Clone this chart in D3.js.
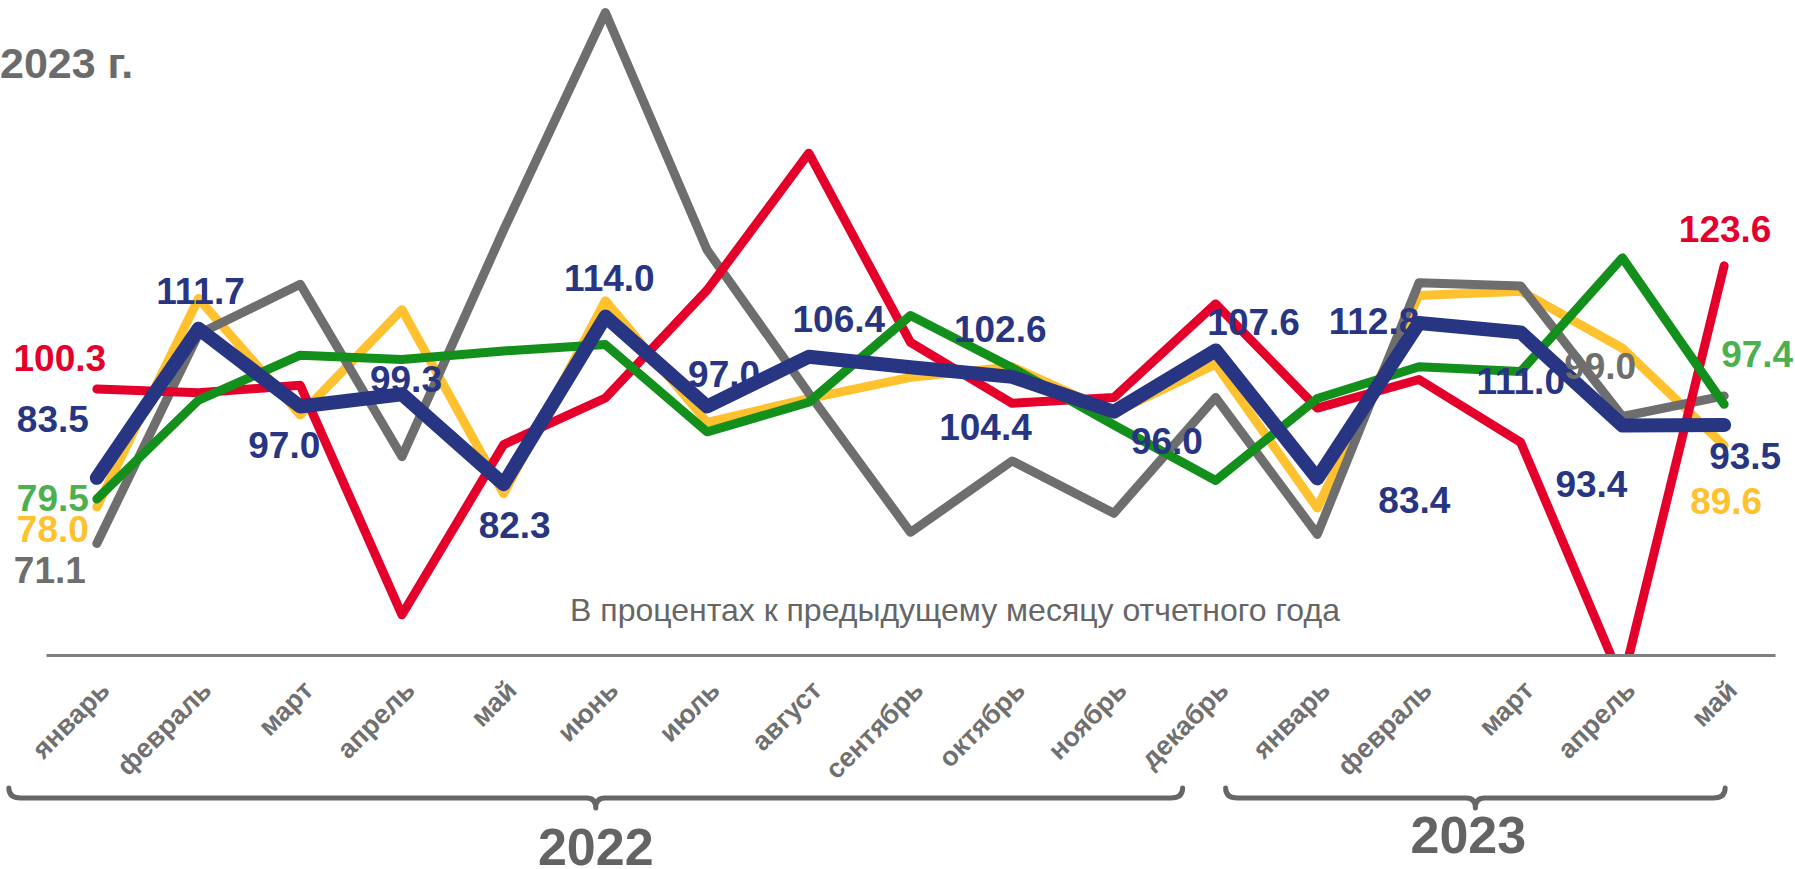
<!DOCTYPE html>
<html>
<head>
<meta charset="utf-8">
<script src="https://cdn.jsdelivr.net/npm/d3@7"></script>
<style>
  html, body { margin: 0; padding: 0; background: #ffffff; }
  svg { display: block; }
  text { font-family: "Liberation Sans", Arial, sans-serif; }
</style>
</head>
<body>
<svg id="chart" width="1795" height="869"></svg>
<script>
// ---------- data ----------
const months = ["январь","февраль","март","апрель","май","июнь","июль","август","сентябрь","октябрь","ноябрь","декабрь","январь","февраль","март","апрель","май"];
const years = ["2022", "2023"];
const blueValues   = [83.5,111.7,97.0,99.3,82.3,114.0,97.0,106.4,104.4,102.6,96.0,107.6,83.4,112.8,111.0,93.4,93.5];
const redValues    = [100.3,99.6,101.0,57.6,89.8,98.6,119.0,144.9,109.1,97.6,98.7,116.4,96.7,102.1,90.2,44.8,123.6];
const yellowValues = [78.0,117.4,95.4,115.3,80.5,117.0,94.0,98.5,102.5,104.5,95.8,105.0,77.8,118.0,118.8,108.0,89.6];
const greenValues  = [79.5,98.2,106.7,105.9,107.5,108.7,92.2,97.8,114.2,104.3,93.5,83.0,98.5,104.5,103.6,125.1,97.4];
const grayValues   = [71.1,110.7,120.1,87.5,130.4,171.5,126.6,99.5,73.2,86.7,76.8,98.7,72.8,120.4,119.8,95.1,99.0];
const titleText = "2023 г.";
const subtitleText = "В процентах к предыдущему месяцу отчетного года";

// ---------- layout / style config ----------
const W = 1795, H = 869;
const plotLeft = 46, plotRight = 1775, plotBottom = 655;
const labelFont = 37;

// label offsets (dx, dy from point to label centre)
const blueLabelOffsets = [[-44,-59],[2,-38],[-16,38],[4,-16],[11,40],[4,-39],[17,-33],[30,-38],[75,59],[-12,-48],[53,29],[38,-29],[97,21],[-45,-2],[0,48],[-31,58],[21,31]];

const series = [
  { values: yellowValues, color: "#FFC12E", labelColor: "#FFC12E", width: 9,  labels: [[0,-44,22],[16,2,55]] },
  { values: grayValues,   color: "#6E6E6E", labelColor: "#6E6E6E", width: 9,  labels: [[0,-47,26],[16,-124,-30]] },
  { values: redValues,    color: "#E4002B", labelColor: "#E4002B", width: 9,  labels: [[0,-37,-31],[16,1,-37]] },
  { values: greenValues,  color: "#13901B", labelColor: "#4DAF4F", width: 9,  labels: [[0,-44,-1],[16,33,-51]] },
  { values: blueValues,   color: "#283583", labelColor: "#283583", width: 14, labels: blueLabelOffsets.map((o,i)=>[i,o[0],o[1]]) }
];

const svg = d3.select("#chart");

const x = d3.scalePoint()
  .domain(d3.range(months.length))
  .range([plotLeft, plotRight])
  .padding(0.5);

const y = d3.scaleLinear()
  .domain([50, 175])
  .range([plotBottom, -6]);

// clip (lines are cut at the axis)
svg.append("defs").append("clipPath").attr("id", "plotClip")
  .append("rect").attr("x", 0).attr("y", -50).attr("width", W).attr("height", plotBottom + 50);

// title
svg.append("text")
  .attr("x", 0).attr("y", 78)
  .attr("font-size", 43).attr("font-weight", "bold")
  .attr("fill", "#6B6B6B")
  .text(titleText);

// subtitle
svg.append("text")
  .attr("x", 955).attr("y", 621)
  .attr("text-anchor", "middle")
  .attr("font-size", 32)
  .attr("fill", "#666666")
  .text(subtitleText);

// lines
const line = d3.line()
  .x((d, i) => x(i))
  .y(d => y(d));

const linesG = svg.append("g").attr("clip-path", "url(#plotClip)");
series.forEach(s => {
  linesG.append("path")
    .datum(s.values)
    .attr("d", line)
    .attr("fill", "none")
    .attr("stroke", s.color)
    .attr("stroke-width", s.width)
    .attr("stroke-linejoin", "round")
    .attr("stroke-linecap", "round");
});

// x axis
const axisG = svg.append("g")
  .attr("transform", `translate(0,${plotBottom})`)
  .call(d3.axisBottom(x).tickSize(0).tickSizeOuter(0).tickFormat(i => months[i]));
axisG.select(".domain").attr("stroke", "#7F7F7F").attr("stroke-width", 3);
axisG.selectAll(".tick text")
  .attr("y", 0).attr("dy", 0)
  .attr("transform", "translate(14,37) rotate(-45)")
  .attr("text-anchor", "end")
  .attr("fill", "#707070")
  .style("font-family", '"Liberation Sans", Arial, sans-serif')
  .style("font-size", "27px")
  .style("font-weight", "bold");

// data labels
const labelsG = svg.append("g");
series.forEach(s => {
  s.labels.forEach(([i, dx, dy]) => {
    labelsG.append("text")
      .attr("x", x(i) + dx)
      .attr("y", y(s.values[i]) + dy + labelFont * 0.36)
      .attr("text-anchor", "middle")
      .attr("font-size", labelFont)
      .attr("font-weight", "bold")
      .attr("fill", s.labelColor)
      .text(d3.format(".1f")(s.values[i]));
  });
});

// year braces
function bracePath(x0, x1, yBar, hook, notch) {
  const xc = (x0 + x1) / 2;
  return `M${x0},${yBar - hook} Q${x0},${yBar} ${x0 + 12},${yBar} L${xc - 9},${yBar} Q${xc},${yBar} ${xc},${yBar + notch} Q${xc},${yBar} ${xc + 9},${yBar} L${x1 - 12},${yBar} Q${x1},${yBar} ${x1},${yBar - hook}`;
}
const braces = [
  { x0: x(0) - 88, x1: x(11) - 33, label: years[0], ty: 865, tx: 0 },
  { x0: x(11) + 10, x1: x(16) + 1, label: years[1], ty: 853, tx: -7 }
];
braces.forEach(b => {
  svg.append("path")
    .attr("d", bracePath(b.x0, b.x1, 798, 10, 10))
    .attr("fill", "none")
    .attr("stroke", "#666666")
    .attr("stroke-width", 5)
    .attr("stroke-linecap", "round")
    .attr("stroke-linejoin", "round");
  svg.append("text")
    .attr("x", (b.x0 + b.x1) / 2 + b.tx)
    .attr("y", b.ty)
    .attr("text-anchor", "middle")
    .attr("font-size", 52)
    .attr("font-weight", "bold")
    .attr("fill", "#636363")
    .text(b.label);
});
</script>
</body>
</html>
